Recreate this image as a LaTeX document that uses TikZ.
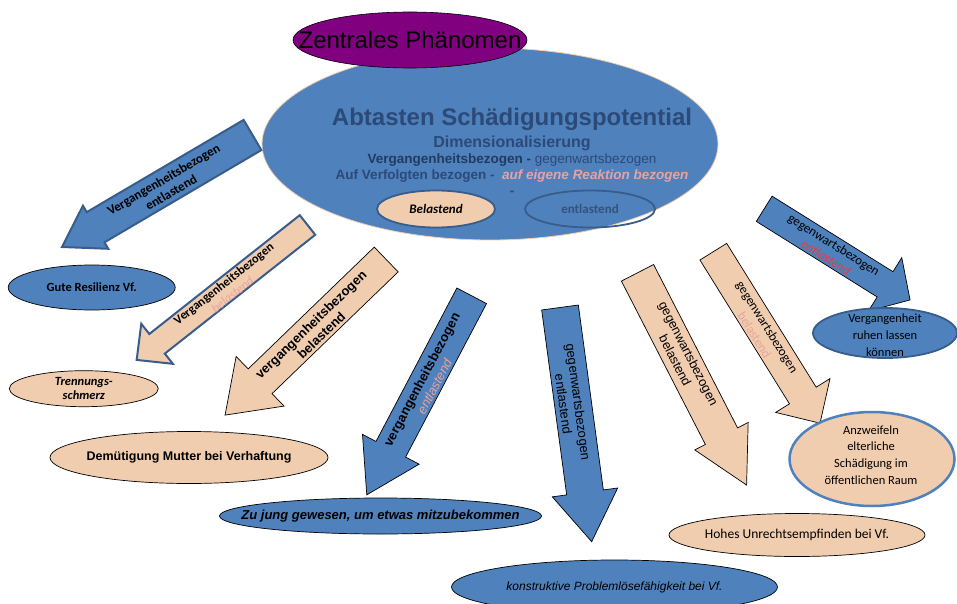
\documentclass[tikz,border=0pt]{standalone}
\usepackage{fontspec}
\setmainfont{Liberation Sans}
\newfontfamily\carl{Carlito}
\usetikzlibrary{shapes.geometric}
\definecolor{bl}{HTML}{4F81BD}
\definecolor{bld}{HTML}{385D8A}
\definecolor{pe}{HTML}{F1CDB0}
\definecolor{pu}{HTML}{800080}
\definecolor{tx}{HTML}{2B4A78}
\definecolor{pk}{HTML}{E9A39C}
\definecolor{rd}{HTML}{E0403C}
% style, tail x, tail y, angle, length, shaft width, head width, head length
\newcommand{\barrow}[8]{%
  \begin{scope}[shift={(#2,#3)}, rotate=#4]
    \draw[#1] (0,{-(#6)/2}) -- ({#5-#8},{-(#6)/2}) -- ({#5-#8},{-(#7)/2}) -- (#5,0)
      -- ({#5-#8},{(#7)/2}) -- ({#5-#8},{(#6)/2}) -- (0,{(#6)/2}) -- cycle;
  \end{scope}}
\begin{document}
\begin{tikzpicture}[x=1pt,y=-1pt,
  oval/.style={ellipse, inner sep=0pt},
  bluefill/.style={fill=bl, draw=black, line width=0.7pt},
  peachfill/.style={fill=pe, draw=black, line width=0.7pt},
  atext/.style={align=center, inner sep=0pt}]
\useasboundingbox (0,0) rectangle (957,604);

% central ellipse
\node[oval, fill=bl, draw=pe, line width=0.8pt, minimum width=456, minimum height=192] (core) at (490,144) {};
\node[oval, fill=pu, draw=black, line width=0.6pt, minimum width=234, minimum height=56] (zp) at (410,40) {};
\node[font=\fontsize{24}{28}\selectfont] (zpt) at (zp) {Zentrales Phänomen};

\node[text=tx, font=\bfseries\fontsize{24}{28}\selectfont] (t1) at (512,119) {Abtasten Schädigungspotential};
\node[text=tx, font=\bfseries\fontsize{16}{19}\selectfont] (t2) at (512,143) {Dimensionalisierung};
\node[text=tx, font=\fontsize{13.5}{16}\selectfont] (t3) at (512,160) {\textbf{\color{tx!80!black}Vergangenheitsbezogen -} gegenwartsbezogen};
\node[text=tx, font=\bfseries\fontsize{13.5}{16}\selectfont] (t4) at (512,176) {Auf Verfolgten bezogen - \ {\itshape\color{pk}auf eigene Reaktion bezogen}};
\node[text=tx, font=\bfseries\fontsize{13.5}{16}\selectfont] (t5) at (512,193) {-};

\node[oval, fill=pe, draw=bld, line width=1.8pt, minimum width=118, minimum height=37] (bel) at (436,209) {};
\node[font=\carl\bfseries\itshape\fontsize{13}{15}\selectfont] at (bel) {Belastend};
\node[oval, draw=bld, line width=1.8pt, minimum width=130, minimum height=37] (ent) at (590,209) {};
\node[text=bld!90!black, font=\carl\bfseries\fontsize{13}{15}\selectfont] at (ent) {entlastend};

% block arrows
\barrow{fill=bl, draw=bld, line width=2pt}{252.5}{135}{210.45}{221}{35}{50}{39}
\barrow{fill=pe, draw=bld, line width=2pt}{307.5}{225}{218.3}{217.7}{25}{51}{26}
\barrow{peachfill}{386.2}{259.5}{224}{224}{34.4}{69}{48.7}
\barrow{bluefill}{471.7}{295.8}{242.2}{225}{33.5}{64}{51.5}
\barrow{bluefill}{560}{307.5}{-82.3}{236.3}{37}{66}{49.7}
\barrow{peachfill}{637.5}{272.8}{-62.8}{238.7}{36.2}{60}{55}
\barrow{peachfill}{713.3}{251.7}{-58.1}{202}{31.5}{64}{32.6}
\barrow{bluefill}{764.2}{208.8}{-32}{172}{29.8}{63}{29.5}

% arrow labels
\node[atext, rotate=30.45, font=\carl\bfseries\fontsize{13}{15}\selectfont] (l1) at (167.3,186) {Vergangenheitsbezogen\\entlastend};
\node[atext, rotate=38.3, font=\carl\bfseries\fontsize{12.5}{14}\selectfont] (l2) at (228,289) {Vergangenheitsbezogen\\{\mdseries\itshape\color{pk}belastend}};
\node[atext, rotate=44, font=\bfseries\fontsize{13}{15}\selectfont] (l3) at (316,330) {vergangenheitsbezogen\\belastend};
\node[atext, rotate=62.2, font=\bfseries\fontsize{13}{14.5}\selectfont] (l4) at (428,383) {vergangenheitsbezogen\\{\mdseries\itshape\color{pk}entlastend}};
\node[atext, rotate=-82.3, font=\fontsize{13}{15}\selectfont] (l5) at (571,403) {gegenwartsbezogen\\entlastend};
\node[atext, rotate=-62.8, font=\fontsize{12.8}{15}\selectfont] (l6) at (682,357) {gegenwartsbezogen\\belastend};
\node[atext, rotate=-58.1, font=\carl\fontsize{13}{15}\selectfont] (l7) at (761,331) {gegenwartsbezogen\\{\color{pk}belastend}};
\node[atext, rotate=-32, font=\carl\fontsize{13}{15}\selectfont] (l8) at (830,251) {gegenwartsbezogen\\{\itshape\color{rd}entlastend}};

% outcome ellipses
\node[oval, bluefill, minimum width=167, minimum height=45] (gute) at (91.7,287.5) {};
\node[font=\carl\bfseries\fontsize{12.5}{14}\selectfont] at (gute) {Gute Resilienz Vf.};
\node[oval, peachfill, minimum width=149, minimum height=36] (trenn) at (83.8,388.7) {};
\node[align=center, font=\carl\bfseries\itshape\fontsize{12.5}{14.5}\selectfont] at (trenn) {Trennungs-\\schmerz};
\node[oval, peachfill, minimum width=278, minimum height=52] (demut) at (189,457.5) {};
\node[font=\bfseries\fontsize{12.5}{15}\selectfont] at (demut) {Demütigung Mutter bei Verhaftung};
\node[oval, bluefill, minimum width=322, minimum height=36] (jung) at (380.5,516) {};
\node[font=\bfseries\itshape\fontsize{13}{15}\selectfont] at (jung) {Zu jung gewesen, um etwas mitzubekommen};
\node[oval, bluefill, minimum width=326, minimum height=54] (konst) at (614.5,587) {};
\node[font=\itshape\fontsize{12}{15}\selectfont] at (konst) {konstruktive Problemlösefähigkeit bei Vf.};
\node[oval, peachfill, minimum width=256, minimum height=43] (hohes) at (797,535) {};
\node[font=\carl\fontsize{13.5}{16}\selectfont] at (hohes) {Hohes Unrechtsempfinden bei Vf.};
\node[oval, fill=pe, draw=bl, line width=2.5pt, minimum width=165, minimum height=94] (anzw) at (872,459) {};
\node[align=center, font=\carl\fontsize{12.5}{16.7}\selectfont] at (871,455) {Anzweifeln\\elterliche\\Schädigung im\\öffentlichen Raum};
\node[oval, fill=bl, draw=bld, line width=1.8pt, minimum width=144, minimum height=50] (ruhen) at (885,333) {};
\node[align=center, font=\carl\fontsize{12.5}{16.8}\selectfont] at (885,335) {Vergangenheit\\ruhen lassen\\können};
\end{tikzpicture}
\end{document}
